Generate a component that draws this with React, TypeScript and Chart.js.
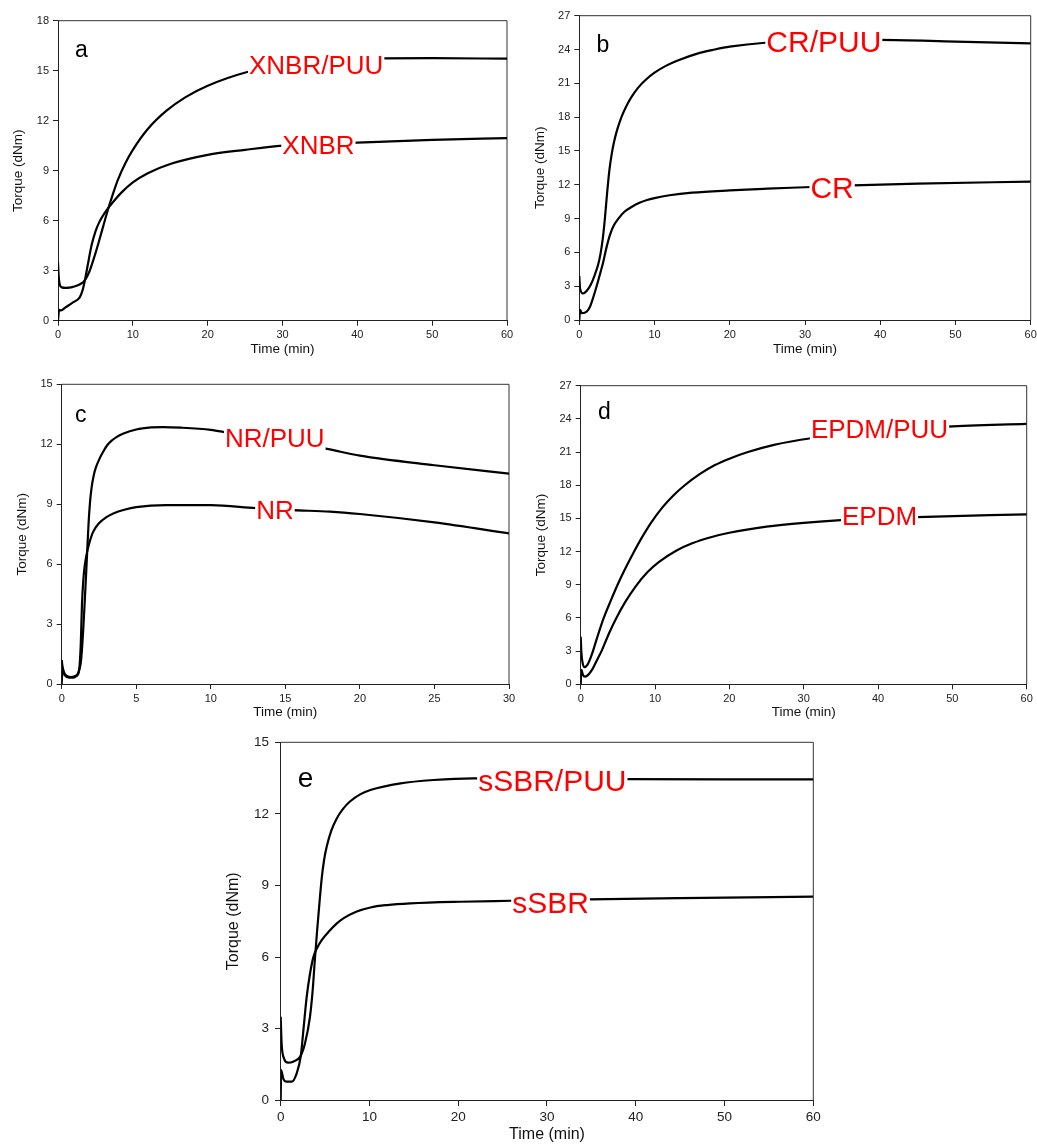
import React, { useEffect, useRef } from "react";
import { Chart, registerables } from "chart.js";

Chart.register(...registerables);

const FONT = 'Arial, "Liberation Sans", sans-serif';

// ---------- Panel a: XNBR ----------
const xnbrPuuTime = [0, 0.1, 0.25, 0.5, 1, 1.5, 2, 3, 3.6, 4.2, 4.8, 5.4, 6.0, 6.6, 7.3, 8.0, 9.0, 10, 12, 14.5, 17, 20, 25.4, 30, 35, 43, 50, 60];
const xnbrPuuTorque = [3.5, 2.6, 2.15, 2.0, 1.97, 1.98, 2.03, 2.2, 2.44, 2.95, 3.75, 4.65, 5.6, 6.55, 7.55, 8.45, 9.45, 10.25, 11.5, 12.6, 13.4, 14.1, 14.94, 15.35, 15.6, 15.74, 15.75, 15.72];
const xnbrTime = [0, 0.15, 0.4, 1, 2, 2.9, 3.3, 3.6, 4.0, 4.5, 5.0, 5.5, 6.0, 6.5, 7.5, 8.5, 10, 12, 15, 20, 25, 30, 40, 50, 60];
const xnbrTorque = [0, 0.65, 0.62, 0.8, 1.1, 1.4, 1.85, 2.44, 3.4, 4.55, 5.35, 5.9, 6.3, 6.64, 7.2, 7.7, 8.3, 8.85, 9.4, 9.95, 10.25, 10.5, 10.68, 10.85, 10.95];

// ---------- Panel b: CR ----------
const crPuuTime = [0, 0.1, 0.5, 1, 1.5, 2, 2.5, 2.8, 3.1, 3.4, 3.7, 4.0, 4.3, 4.6, 5.0, 5.6, 6.2, 6.9, 7.8, 8.8, 10, 11.5, 13, 16, 18, 20, 24.7, 30, 40, 50, 60];
const crPuuTorque = [3.9, 2.8, 2.35, 2.6, 3.1, 3.9, 4.9, 5.8, 7.1, 9.0, 11.3, 13.3, 14.7, 15.75, 16.8, 18.0, 18.9, 19.75, 20.6, 21.3, 21.95, 22.55, 23.0, 23.7, 24.0, 24.25, 24.6, 24.75, 24.85, 24.7, 24.55];
const crTime = [0, 0.1, 0.35, 1, 1.4, 1.8, 2.3, 2.8, 3.2, 3.6, 4.1, 4.6, 5.2, 6, 7, 8, 9, 10, 12, 15, 20, 25, 30, 36.4, 45, 60];
const crTorque = [0, 0.9, 0.6, 0.75, 1.15, 1.9, 3.0, 4.2, 5.2, 6.4, 7.6, 8.4, 9.0, 9.6, 10.05, 10.4, 10.65, 10.82, 11.07, 11.3, 11.5, 11.65, 11.78, 11.95, 12.1, 12.28];

// ---------- Panel c: NR ----------
const nrPuuTime = [0, 0.05, 0.15, 0.3, 0.6, 0.9, 1.1, 1.3, 1.45, 1.55, 1.63, 1.72, 1.8, 1.9, 2.0, 2.15, 2.3, 2.55, 2.8, 3.05, 3.35, 3.7, 4.1, 5, 6, 6.8, 8, 10, 11, 14, 17.7, 20, 25, 30];
const nrPuuTorque = [1.2, 0.9, 0.6, 0.42, 0.35, 0.4, 0.55, 1.2, 2.8, 4.2, 5.4, 6.8, 8.0, 9.1, 9.8, 10.45, 10.85, 11.3, 11.65, 11.95, 12.18, 12.37, 12.52, 12.74, 12.84, 12.86, 12.83, 12.72, 12.6, 12.2, 11.78, 11.43, 10.95, 10.53];
const nrTime = [0, 0.05, 0.2, 0.5, 0.8, 1.0, 1.15, 1.28, 1.36, 1.45, 1.55, 1.7, 1.85, 2.1, 2.5, 3, 3.5, 4.2, 5, 7, 10, 13, 15.5, 18, 20, 25, 30];
const nrTorque = [0, 0.7, 0.45, 0.32, 0.32, 0.4, 0.6, 2.0, 4.0, 5.2, 5.95, 6.6, 7.05, 7.6, 8.05, 8.35, 8.55, 8.72, 8.85, 8.95, 8.95, 8.8, 8.7, 8.63, 8.51, 8.09, 7.54];

// ---------- Panel d: EPDM ----------
const epdmPuuTime = [0, 0.1, 0.3, 0.5, 0.9, 1.5, 2.2, 3.1, 4.1, 5.1, 6.1, 7.1, 8.3, 9.5, 11, 12.5, 14, 16, 18, 20, 22.5, 26, 31, 40, 49.4, 60];
const epdmPuuTorque = [4.3, 2.8, 1.8, 1.55, 1.75, 2.7, 4.2, 6.0, 7.65, 9.2, 10.6, 11.9, 13.35, 14.65, 16.0, 17.1, 18.0, 19.0, 19.8, 20.4, 21.0, 21.65, 22.25, 22.9, 23.3, 23.55];
const epdmTime = [0, 0.1, 0.3, 0.6, 1, 1.6, 2.2, 2.8, 3.8, 4.8, 6, 7.5, 9, 10.5, 12.9, 15, 17.5, 20, 25, 30, 35, 45.2, 60];
const epdmTorque = [0, 1.3, 0.85, 0.7, 0.85, 1.4, 2.2, 3.0, 4.6, 6.0, 7.45, 8.95, 10.15, 11.05, 12.1, 12.75, 13.3, 13.7, 14.25, 14.6, 14.85, 15.12, 15.37];

// ---------- Panel e: sSBR ----------
const ssbrPuuTime = [0, 0.1, 0.3, 0.86, 1.4, 2.2, 2.74, 3.3, 3.6, 3.85, 4.1, 4.35, 4.62, 4.9, 5.2, 5.7, 6.3, 7.0, 7.8, 9, 10.1, 13.5, 17.2, 21.7, 30, 39, 50, 60];
const ssbrPuuTorque = [3.5, 2.4, 1.83, 1.58, 1.62, 1.83, 2.39, 3.5, 4.6, 5.9, 7.1, 8.2, 9.3, 10.1, 10.65, 11.3, 11.8, 12.2, 12.52, 12.83, 13.0, 13.28, 13.42, 13.49, 13.48, 13.46, 13.45, 13.45];
const ssbrTime = [0, 0.05, 0.3, 0.68, 1.24, 1.8, 2.26, 2.56, 2.93, 3.3, 3.68, 4.06, 4.6, 5.5, 6.3, 7.06, 8.5, 10.1, 12, 14.6, 20.2, 25.9, 34.8, 45, 60];
const ssbrTorque = [0, 1.27, 0.9, 0.78, 0.78, 1.13, 1.85, 2.95, 4.34, 5.3, 6.0, 6.35, 6.7, 7.1, 7.4, 7.62, 7.9, 8.08, 8.18, 8.25, 8.32, 8.36, 8.42, 8.47, 8.53];

// ---------- axis settings ----------
const xAxisTitle = "Time (min)";
const yAxisTitle = "Torque (dNm)";
const xMaxA = 60, xMaxB = 60, xMaxC = 30, xMaxD = 60, xMaxE = 60;
const xStepLong = 10, xStepShort = 5;
const yMaxA = 18, yMaxB = 27, yMaxC = 15, yMaxD = 27, yMaxE = 15;
const yStep = 3;

type Lbl = { text: string; x: number; y: number; size: number; color: string; bg: boolean; align: "center" | "left" };
type Spec = {
  box: { l: number; t: number; r: number; b: number };
  yTitleX: number;
  xTitleY: number;
  xMax: number;
  xStep: number;
  yMax: number;
  tickSize: number;
  titleSize: number;
  tickPadY: number;
  tickPadX: number;
  tickLen: number;
  series: { t: number[]; v: number[] }[];
  labels: Lbl[];
};

const RED = "#ff0000";

const specs: Spec[] = [
  {
    box: { l: 58, t: 20.7, r: 507, b: 320.7 },
    yTitleX: 18.3, xTitleY: 349,
    xMax: xMaxA, xStep: xStepLong, yMax: yMaxA,
    tickSize: 11, titleSize: 13.5, tickPadY: 4, tickPadX: 3, tickLen: 5,
    series: [{ t: xnbrPuuTime, v: xnbrPuuTorque }, { t: xnbrTime, v: xnbrTorque }],
    labels: [
      { text: "XNBR/PUU", x: 34.5, y: 14.8, size: 26, color: RED, bg: true, align: "center" },
      { text: "XNBR", x: 34.8, y: 10.0, size: 26, color: RED, bg: true, align: "center" },
      { text: "a", x: 2.27, y: 15.8, size: 23, color: "#000", bg: false, align: "left" },
    ],
  },
  {
    box: { l: 579.3, t: 15.7, r: 1030.7, b: 320 },
    yTitleX: 540.7, xTitleY: 349,
    xMax: xMaxB, xStep: xStepLong, yMax: yMaxB,
    tickSize: 11, titleSize: 13.5, tickPadY: 4, tickPadX: 3, tickLen: 5,
    series: [{ t: crPuuTime, v: crPuuTorque }, { t: crTime, v: crTorque }],
    labels: [
      { text: "CR/PUU", x: 32.5, y: 23.74, size: 30, color: RED, bg: true, align: "center" },
      { text: "CR", x: 33.6, y: 10.8, size: 30, color: RED, bg: true, align: "center" },
      { text: "b", x: 2.3, y: 23.8, size: 23, color: "#000", bg: false, align: "left" },
    ],
  },
  {
    box: { l: 61.7, t: 384.3, r: 509, b: 684 },
    yTitleX: 22.7, xTitleY: 712.7,
    xMax: xMaxC, xStep: xStepShort, yMax: yMaxC,
    tickSize: 11, titleSize: 13.5, tickPadY: 4, tickPadX: 3, tickLen: 5,
    series: [{ t: nrPuuTime, v: nrPuuTorque }, { t: nrTime, v: nrTorque }],
    labels: [
      { text: "NR/PUU", x: 14.29, y: 11.85, size: 26, color: RED, bg: true, align: "center" },
      { text: "NR", x: 14.3, y: 8.24, size: 26, color: RED, bg: true, align: "center" },
      { text: "c", x: 0.89, y: 13.1, size: 23, color: "#000", bg: false, align: "left" },
    ],
  },
  {
    box: { l: 580.7, t: 385.7, r: 1026.7, b: 684.3 },
    yTitleX: 541.7, xTitleY: 712.7,
    xMax: xMaxD, xStep: xStepLong, yMax: yMaxD,
    tickSize: 11, titleSize: 13.5, tickPadY: 4, tickPadX: 3, tickLen: 5,
    series: [{ t: epdmPuuTime, v: epdmPuuTorque }, { t: epdmTime, v: epdmTorque }],
    labels: [
      { text: "EPDM/PUU", x: 40.2, y: 22.24, size: 26, color: RED, bg: true, align: "center" },
      { text: "EPDM", x: 40.2, y: 14.38, size: 26, color: RED, bg: true, align: "center" },
      { text: "d", x: 2.33, y: 24.0, size: 23, color: "#000", bg: false, align: "left" },
    ],
  },
  {
    box: { l: 280.7, t: 742.3, r: 813.3, b: 1100.3 },
    yTitleX: 234, xTitleY: 1135,
    xMax: xMaxE, xStep: xStepLong, yMax: yMaxE,
    tickSize: 13.5, titleSize: 16, tickPadY: 6, tickPadX: 3, tickLen: 5.7,
    series: [{ t: ssbrPuuTime, v: ssbrPuuTorque }, { t: ssbrTime, v: ssbrTorque }],
    labels: [
      { text: "sSBR/PUU", x: 30.6, y: 12.96, size: 30, color: RED, bg: true, align: "center" },
      { text: "sSBR", x: 30.4, y: 7.86, size: 30, color: RED, bg: true, align: "center" },
      { text: "e", x: 1.92, y: 13.14, size: 28, color: "#000", bg: false, align: "left" },
    ],
  },
];

function Panel({ spec }: { spec: Spec }) {
  const ref = useRef<HTMLCanvasElement>(null);
  const { l, t, r, b } = spec.box;
  const cLeft = Math.floor(spec.yTitleX - 14);
  const cTop = Math.floor(t - 14);
  const cRight = Math.ceil(r + 16);
  const cBottom = Math.ceil(spec.xTitleY + 12);
  const W = cRight - cLeft;
  const H = cBottom - cTop;

  useEffect(() => {
    const canvas = ref.current;
    if (!canvas) return;
    const yW = l - cLeft;
    const xH = cBottom - b;
    const lh = spec.titleSize * 1.2;

    const framePlugin = {
      id: "frame" + spec.yMax + spec.xTitleY,
      beforeDatasetsDraw(chart: any) {
        const { ctx, chartArea: a } = chart;
        ctx.save();
        ctx.strokeStyle = "#333";
        ctx.lineWidth = 1;
        ctx.beginPath();
        ctx.moveTo(a.left, a.top);
        ctx.lineTo(a.right, a.top);
        ctx.lineTo(a.right, a.bottom);
        ctx.stroke();
        ctx.restore();
      },
    };

    const labelPlugin = {
      id: "labels" + spec.yMax + spec.xTitleY,
      afterDatasetsDraw(chart: any) {
        const { ctx } = chart;
        const xs = chart.scales.x;
        const ys = chart.scales.y;
        ctx.save();
        for (const lb of spec.labels) {
          const px = xs.getPixelForValue(lb.x);
          const py = ys.getPixelForValue(lb.y);
          ctx.font = `${lb.size}px ${FONT}`;
          const w = ctx.measureText(lb.text).width;
          const left = lb.align === "center" ? px - w / 2 : px;
          if (lb.bg) {
            ctx.fillStyle = "#fff";
            ctx.fillRect(left - 1, py - lb.size * 0.85, w + 2, lb.size * 1.05);
          }
          ctx.fillStyle = lb.color;
          ctx.textAlign = "left";
          ctx.textBaseline = "alphabetic";
          ctx.fillText(lb.text, left, py);
        }
        ctx.restore();
      },
    };

    const tickColor = "#222";
    const chart = new Chart(canvas, {
      type: "line",
      data: {
        datasets: spec.series.map((s) => ({
          data: s.t.map((x, i) => ({ x, y: s.v[i] })),
          borderColor: "#000",
          borderWidth: 2.2,
          pointRadius: 0,
          fill: false,
          cubicInterpolationMode: "monotone" as const,
        })),
      },
      options: {
        animation: false,
        responsive: false,
        devicePixelRatio: 1,
        events: [],
        layout: { padding: { left: 0, top: t - cTop, right: cRight - r, bottom: 0 } },
        plugins: { legend: { display: false }, tooltip: { enabled: false } },
        scales: {
          x: {
            type: "linear",
            min: 0,
            max: spec.xMax,
            afterFit: (sc: any) => { sc.height = xH; },
            ticks: {
              stepSize: spec.xStep,
              color: tickColor,
              font: { family: FONT, size: spec.tickSize },
              padding: spec.tickPadX,
              maxRotation: 0,
              autoSkip: false,
            },
            grid: { display: true, drawOnChartArea: false, drawTicks: true, tickLength: spec.tickLen, color: "#222", lineWidth: 1 },
            border: { display: true, color: "#222", width: 1 },
            title: {
              display: true,
              text: xAxisTitle,
              color: "#111",
              font: { family: FONT, size: spec.titleSize },
              padding: { top: 0, bottom: cBottom - spec.xTitleY - lh / 2 },
            },
          },
          y: {
            type: "linear",
            min: 0,
            max: spec.yMax,
            afterFit: (sc: any) => { sc.width = yW; },
            ticks: {
              stepSize: yStep,
              color: tickColor,
              font: { family: FONT, size: spec.tickSize },
              padding: spec.tickPadY,
              autoSkip: false,
            },
            grid: { display: true, drawOnChartArea: false, drawTicks: true, tickLength: spec.tickLen, color: "#222", lineWidth: 1 },
            border: { display: true, color: "#222", width: 1 },
            title: {
              display: true,
              text: yAxisTitle,
              color: "#111",
              font: { family: FONT, size: spec.titleSize },
              padding: { top: spec.yTitleX - cLeft - lh / 2, bottom: 0 },
            },
          },
        },
      },
      plugins: [framePlugin, labelPlugin],
    } as any);
    return () => chart.destroy();
  }, []);

  return (
    <canvas
      ref={ref}
      width={W}
      height={H}
      style={{ position: "absolute", left: cLeft, top: cTop, width: W, height: H }}
    />
  );
}

export default function App() {
  return (
    <div
      style={{
        position: "fixed",
        left: 0,
        top: 0,
        width: 1037,
        height: 1145,
        overflow: "hidden",
        background: "#fff",
      }}
    >
      {specs.map((s, i) => (
        <Panel key={i} spec={s} />
      ))}
    </div>
  );
}
